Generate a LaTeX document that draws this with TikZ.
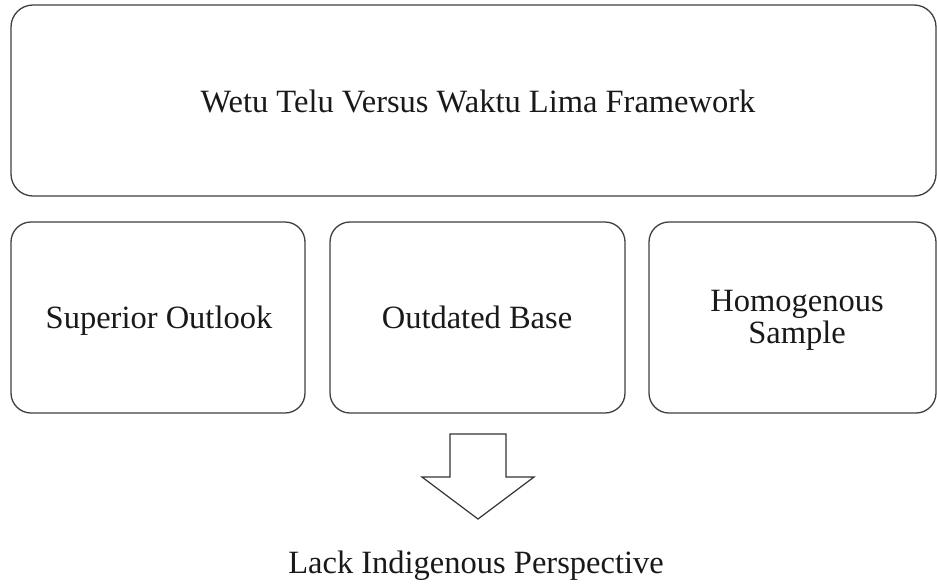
\documentclass[tikz,border=0pt]{standalone}
\usepackage{fontspec}
\setmainfont{Liberation Serif}
\begin{document}
\begin{tikzpicture}[x=1pt,y=-1pt,
  boxstyle/.style={draw=black!75, line width=1.3pt, rounded corners=22pt, fill=white},
  txt/.style={font=\fontsize{32.5}{32}\selectfont, align=center, text=black!90, inner sep=0pt}]
\useasboundingbox (0,0) rectangle (937,584);
\fill[white] (0,0) rectangle (937,584);
\draw[boxstyle] (11,5) rectangle (936,196);
\node[txt, anchor=base] (top) at (478,112) {Wetu Telu Versus Waktu Lima Framework};
\draw[boxstyle, rounded corners=20pt] (11,222) rectangle (305,413);
\node[txt, anchor=base] (b1) at (159,328) {Superior Outlook};
\draw[boxstyle, rounded corners=20pt] (330,222) rectangle (625,413);
\node[txt, anchor=base] (b2) at (477,328) {Outdated Base};
\draw[boxstyle, rounded corners=20pt] (649,222) rectangle (936,413);
\node[txt] (b3) at (797,320) {Homogenous\\Sample};
\draw[draw=black!80, line width=1.2pt, fill=white, line join=miter]
  (450,434) -- (506,434) -- (506,477) -- (534,477) -- (478,519) -- (422,477) -- (450,477) -- cycle;
\node[txt, anchor=base] (bot) at (476,573) {Lack Indigenous Perspective};
\end{tikzpicture}
\end{document}
